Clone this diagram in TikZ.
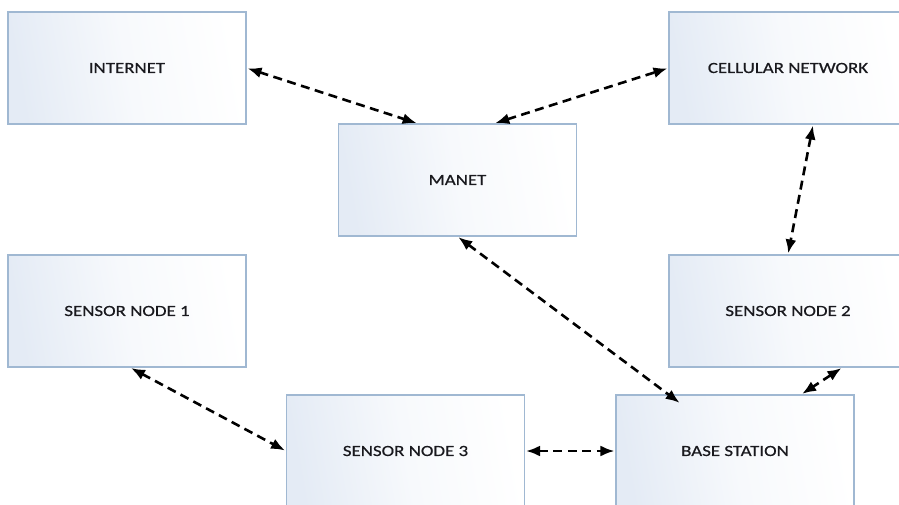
\documentclass[tikz,border=0pt]{standalone}
\usepackage{fontspec}
\setmainfont{Carlito}[FakeStretch=1.22,FakeBold=0.6]
\usetikzlibrary{arrows.meta,calc}
\definecolor{boxedge}{RGB}{160,184,210}
\definecolor{boxtint}{RGB}{228,235,245}
\definecolor{txt}{RGB}{25,25,30}
\tikzset{
  box/.style={draw=boxedge, line width=1.1pt, minimum width=238pt, minimum height=112pt,
    left color=boxtint, right color=white, middle color=white!70!boxtint, shading angle=100, inner sep=0pt,
    font=\fontsize{15.5}{17}\selectfont, text=txt},
  link/.style={line width=2.6pt, dash pattern=on 9pt off 5.5pt,
    {Latex[length=14pt,width=11pt]}-{Latex[length=14pt,width=11pt]}, shorten <=1pt, shorten >=1pt}
}
\begin{document}
\begin{tikzpicture}[x=1pt,y=1pt]
\clip (0,0) rectangle (899,-505);
\fill[white] (0,0) rectangle (899,-505);
\node[box] (internet) at (127,-68) {INTERNET};
\node[box] (cell) at (788,-68) {CELLULAR NETWORK};
\node[box] (manet) at (457.5,-180) {MANET};
\node[box] (sn1) at (127,-311) {SENSOR NODE 1};
\node[box] (sn2) at (788,-311) {SENSOR NODE 2};
\node[box] (sn3) at (405.5,-451) {SENSOR NODE 3};
\node[box] (base) at (735,-451) {BASE STATION};
\coordinate (mbtip) at ($(base.north west)+(65,-9)$);
\draw[link] (internet.east) -- ($(manet.north west)!0.333!(manet.north east)$);
\draw[link] ($(manet.north west)!0.654!(manet.north east)$) -- (cell.west);
\draw[link] ($(cell.south west)!0.605!(cell.south east)$) -- (sn2.north);
\draw[link] (manet.south) -- (mbtip);
\draw[link] ($(sn1.south west)!0.513!(sn1.south east)$) -- (sn3.west);
\draw[link] (sn3.east) -- (base.west);
\draw[link] ($(sn2.south west)!0.727!(sn2.south east)$) -- ($(base.north west)!0.777!(base.north east)$);
\end{tikzpicture}
\end{document}
